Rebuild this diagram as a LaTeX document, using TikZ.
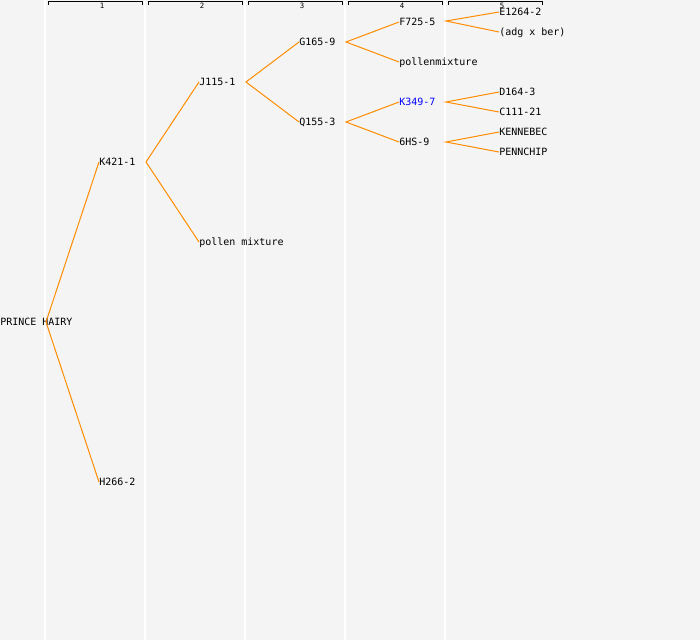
\documentclass[tikz,border=0pt]{standalone}
\usepackage{fontspec}
\setmonofont{DejaVu Sans Mono}
\definecolor{bg}{RGB}{244,244,244}
\definecolor{edgeor}{RGB}{255,140,0}
\definecolor{kblue}{RGB}{0,0,255}
\begin{document}
\begin{tikzpicture}[x=0.75pt,y=-0.75pt,
  lbl/.style={font=\ttfamily\fontsize{7.5}{8}\selectfont, inner sep=0pt, anchor=west, text height=5.4pt, text depth=0pt},
  edge/.style={draw=edgeor, line width=0.75pt},
  sep/.style={draw=white, line width=1.5pt},
  hdr/.style={draw=black, line width=0.75pt},
  hnum/.style={font=\ttfamily\fontsize{5.5}{6}\selectfont, inner sep=0pt}]
\fill[bg] (0,0) rectangle (700,640);
\useasboundingbox (0,0) rectangle (700,640);
\foreach \x in {45,145,245,345,445} {\draw[sep] (\x,0) -- (\x,640);}
\foreach \c in {1,...,5} {
  \draw[hdr] ({100*\c-52},4.5) -- ({100*\c-52},1.5) -- ({100*\c+42},1.5) -- ({100*\c+42},4.5);
}
% nodes
\node[lbl] (ph) at (0,322) {PRINCE HAIRY};
\node[lbl] (k421) at (99,162) {K421-1};
\node[lbl] (h266) at (99,482) {H266-2};
\node[lbl] (j115) at (199,82) {J115-1};
\node[lbl] (pm1) at (199,242) {pollen mixture};
\node[lbl] (g165) at (299,42) {G165-9};
\node[lbl] (q155) at (299,122) {Q155-3};
\node[lbl] (f725) at (399,22) {F725-5};
\node[lbl] (pm2) at (399,62) {pollenmixture};
\node[lbl, text=kblue] (k349) at (399,102) {K349-7};
\node[lbl] (hs6) at (399,142) {6HS-9};
\node[lbl] (e1264) at (499,12) {E1264-2};
\node[lbl] (adg) at (499,32) {(adg x ber)};
\node[lbl] (d164) at (499,92) {D164-3};
\node[lbl] (c111) at (499,112) {C111-21};
\node[lbl] (ken) at (499,132) {KENNEBEC};
\node[lbl] (pen) at (499,152) {PENNCHIP};
% header numbers
\foreach \c in {1,...,5} {\node[hnum] (h\c) at ({100*\c+2},6) {\c};}
% fork points
\coordinate (phf) at (46,322);
\coordinate (k421f) at (146,162);
\coordinate (j115f) at (246,82);
\coordinate (g165f) at (346,42);
\coordinate (q155f) at (346,122);
\coordinate (f725f) at (446,21);
\coordinate (k349f) at (446,102);
\coordinate (hs6f) at (446,142);
% edges
\draw[edge] (k421.west) -- (phf) -- (h266.west);
\draw[edge] (j115.west) -- (k421f) -- (pm1.west);
\draw[edge] (g165.west) -- (j115f) -- (q155.west);
\draw[edge] (f725.west) -- (g165f) -- (pm2.west);
\draw[edge] (k349.west) -- (q155f) -- (hs6.west);
\draw[edge] (e1264.west) -- (f725f) -- (adg.west);
\draw[edge] (d164.west) -- (k349f) -- (c111.west);
\draw[edge] (ken.west) -- (hs6f) -- (pen.west);
\end{tikzpicture}
\end{document}
